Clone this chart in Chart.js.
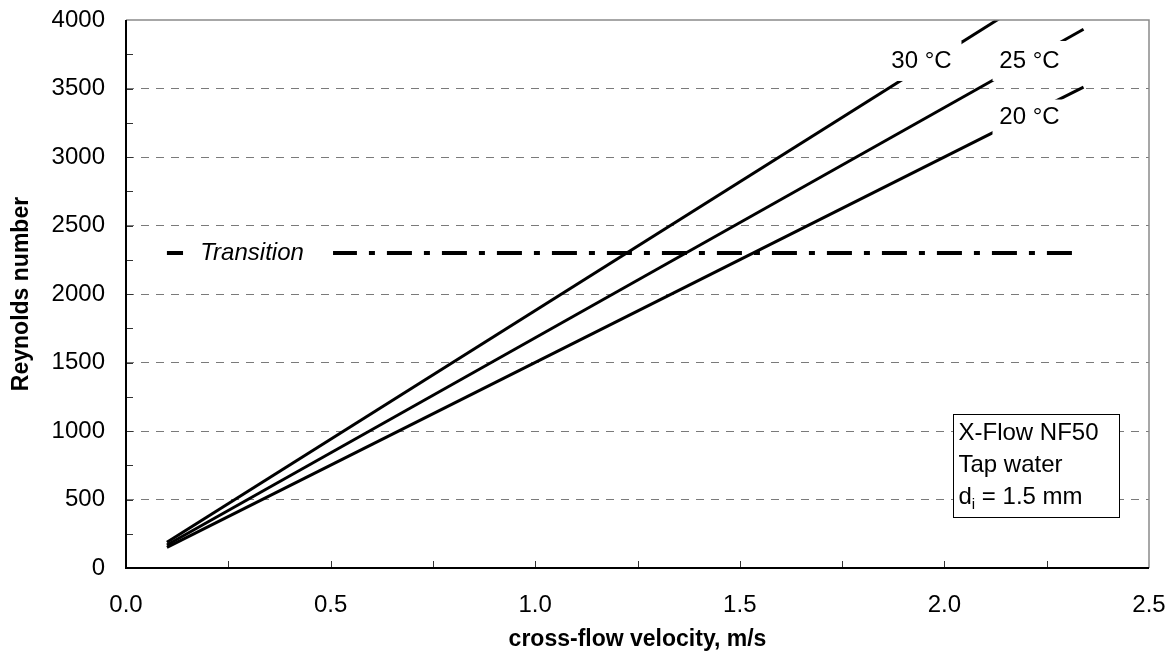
<!DOCTYPE html>
<html>
<head>
<meta charset="utf-8">
<script src="https://cdn.jsdelivr.net/npm/chart.js@4.4.6/dist/chart.umd.min.js"></script>
<style>
  html, body { margin: 0; padding: 0; background: #fff; }
  #wrap { width: 1174px; height: 651px; }
</style>
</head>
<body>
<div id="wrap"><canvas id="chart" width="1174" height="651"></canvas></div>
<script>
// cross-flow velocity (m/s) at the two ends of each line
const velocity = [0.1, 2.34];
// Reynolds number per water temperature
const re20 = [150, 3510];
const re25 = [168, 3932];
const re30 = [188, 4397];
// laminar/turbulent transition
const transition = [2300, 2300];
const seriesNames = ["20 °C", "25 °C", "30 °C"];
const infoLines = ["X-Flow NF50", "Tap water", "d|i| = 1.5 mm"];

const FONT = "'Liberation Sans', Arial, sans-serif";
Chart.defaults.font.family = FONT;
Chart.defaults.color = "#000";

function points(values) {
  return velocity.map((v, i) => ({ x: v, y: values[i] }));
}

function lineSet(label, values) {
  return {
    label,
    data: points(values),
    borderColor: "#000",
    borderWidth: 3,
    pointRadius: 0,
    showLine: true,
    clip: 0
  };
}

// label boxes sit over the lines, like the white text boxes in the original
const curveLabels = [
  { text: seriesNames[2], v: 1.944, re: 3701, w: 80, h: 40 },
  { text: seriesNames[1], v: 2.208, re: 3701, w: 74, h: 40 },
  { text: seriesNames[0], v: 2.208, re: 3288, w: 74, h: 36 }
];

const decor = {
  id: "decor",
  afterDatasetsDraw(chart) {
    const { ctx, chartArea: a, scales } = chart;
    const x = scales.x, y = scales.y;
    ctx.save();

    // inward tick marks
    ctx.strokeStyle = "#333";
    ctx.lineWidth = 1;
    ctx.beginPath();
    for (let i = 1; i < 10; i++) {
      const px = Math.round(x.getPixelForValue(i * 0.25)) + 0.5;
      ctx.moveTo(px, a.bottom);
      ctx.lineTo(px, a.bottom - 7);
    }
    for (let i = 1; i < 16; i++) {
      const py = Math.round(y.getPixelForValue(i * 250)) + 0.5;
      ctx.moveTo(a.left, py);
      ctx.lineTo(a.left + 7, py);
    }
    ctx.stroke();

    // frame
    ctx.strokeStyle = "#8a8a8a";
    ctx.lineWidth = 1.5;
    ctx.beginPath();
    ctx.moveTo(a.left, a.top);
    ctx.lineTo(a.right, a.top);
    ctx.lineTo(a.right, a.bottom);
    ctx.stroke();
    ctx.strokeStyle = "#000";
    ctx.lineWidth = 2;
    ctx.beginPath();
    ctx.moveTo(a.left, a.top);
    ctx.lineTo(a.left, a.bottom);
    ctx.lineTo(a.right, a.bottom);
    ctx.stroke();

    // temperature labels
    ctx.font = "24px " + FONT;
    ctx.textAlign = "center";
    ctx.textBaseline = "middle";
    curveLabels.forEach(l => {
      const cx = x.getPixelForValue(l.v);
      const cy = y.getPixelForValue(l.re);
      ctx.fillStyle = "#fff";
      ctx.fillRect(cx - l.w / 2, cy - l.h / 2, l.w, l.h);
      ctx.fillStyle = "#000";
      ctx.fillText(l.text, cx, cy);
    });

    // transition label
    const tx = x.getPixelForValue(0.308);
    const ty = y.getPixelForValue(transition[0]);
    ctx.fillStyle = "#fff";
    ctx.fillRect(tx - 69, ty - 14, 150, 28);
    ctx.fillStyle = "#000";
    ctx.font = "italic 24px " + FONT;
    ctx.fillText("Transition", tx, ty);

    // info box
    const bx = Math.round(x.getPixelForValue(2.02)) + 0.5;
    const by = Math.round(y.getPixelForValue(1124)) + 0.5;
    ctx.fillStyle = "#fff";
    ctx.fillRect(bx, by, 166, 103);
    ctx.strokeStyle = "#000";
    ctx.lineWidth = 1;
    ctx.strokeRect(bx, by, 166, 103);
    ctx.fillStyle = "#000";
    ctx.textAlign = "left";
    ctx.textBaseline = "alphabetic";
    infoLines.forEach((line, i) => {
      const base = by + 25 + i * 32;
      let cx = bx + 5;
      line.split("|").forEach((part, j) => {
        const sub = j % 2 === 1;
        ctx.font = (sub ? "15px " : "24px ") + FONT;
        ctx.fillText(part, cx, base + (sub ? 5 : 0));
        cx += ctx.measureText(part).width;
      });
    });

    ctx.restore();
  }
};

new Chart(document.getElementById("chart"), {
  type: "scatter",
  data: {
    datasets: [
      lineSet(seriesNames[0], re20),
      lineSet(seriesNames[1], re25),
      lineSet(seriesNames[2], re30),
      {
        label: "Transition",
        data: points(transition),
        borderColor: "#000",
        borderWidth: 4,
        borderDash: [25, 12, 6, 12],
        pointRadius: 0,
        showLine: true,
        clip: 0
      }
    ]
  },
  options: {
    responsive: false,
    animation: false,
    layout: { padding: { top: 20, right: 25, left: 0, bottom: 0 } },
    plugins: { legend: { display: false }, tooltip: { enabled: false } },
    scales: {
      x: {
        type: "linear",
        min: 0,
        max: 2.5,
        afterFit: s => {
          s.height = 83;
          s.paddingLeft = 0;
          s.paddingRight = 0;
        },
        border: { display: false },
        grid: { display: false, drawTicks: false },
        ticks: {
          stepSize: 0.5,
          padding: 23,
          maxRotation: 0,
          font: { size: 24 },
          callback: v => Number(v).toFixed(1)
        },
        title: {
          display: true,
          text: "cross-flow velocity, m/s",
          font: { size: 23, weight: "bold", lineHeight: 1 },
          padding: { top: 0, bottom: 0 }
        }
      },
      y: {
        min: 0,
        max: 4000,
        afterFit: s => {
          s.width = 126;
          s.paddingTop = 0;
          s.paddingBottom = 0;
        },
        border: { display: false, dash: [8, 7] },
        grid: {
          drawTicks: false,
          lineWidth: 1,
          color: c => (c.tick.value === 0 || c.tick.value === 4000) ? "rgba(0,0,0,0)" : "#7a7a7a"
        },
        ticks: {
          stepSize: 500,
          padding: 21,
          font: { size: 24 },
          callback: v => String(v)
        },
        title: {
          display: true,
          text: "Reynolds number",
          font: { size: 23, weight: "bold", lineHeight: 1 },
          padding: { top: 10, bottom: 0 }
        }
      }
    }
  },
  plugins: [decor]
});
</script>
</body>
</html>
